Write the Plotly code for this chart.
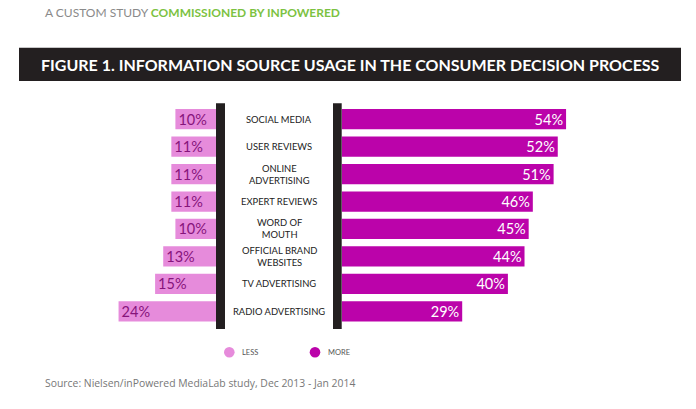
import plotly.graph_objects as go

categories = ["SOCIAL MEDIA", "USER REVIEWS", "ONLINE<br>ADVERTISING", "EXPERT REVIEWS",
              "WORD OF<br>MOUTH", "OFFICIAL BRAND<br>WEBSITES", "TV ADVERTISING", "RADIO ADVERTISING"]
less_vals = [10, 11, 11, 11, 10, 13, 15, 24]
more_vals = [54, 52, 51, 46, 45, 44, 40, 29]

W, H = 696, 409
LESS_C = "#e68bdb"
MORE_C = "#bb03aa"
DARK = "#231f20"

def px(x):
    return x / W

def py(y):
    return 1 - y / H

fig = go.Figure()
fig.add_trace(go.Bar(
    y=categories, x=less_vals, orientation="h", xaxis="x", yaxis="y",
    marker=dict(color=LESS_C, line=dict(width=0)),
    texttemplate="%{x}%", textposition="inside", insidetextanchor="end", constraintext="none",
    textfont=dict(family="Lato", size=14.5, color="#86147b"),
    name="LESS", showlegend=False, hoverinfo="skip",
))
fig.add_trace(go.Bar(
    y=categories, x=more_vals, orientation="h", xaxis="x2", yaxis="y",
    marker=dict(color=MORE_C, line=dict(width=0)),
    texttemplate="%{x}%", textposition="inside", insidetextanchor="end", constraintext="none",
    textfont=dict(family="Lato", size=14.5, color="white"),
    name="MORE", showlegend=False, hoverinfo="skip",
))

left_scale = 4.06
right_scale = 4.155
left_edge_px = 216
right_start_px = 341.7

axis_common = dict(showgrid=False, zeroline=False, showticklabels=False, showline=False, ticks="", fixedrange=True)
fig.update_layout(
    width=W, height=H,
    margin=dict(l=0, r=0, t=0, b=0),
    paper_bgcolor="white", plot_bgcolor="rgba(0,0,0,0)",
    bargap=0.26,
    uniformtext=dict(mode=False),
    xaxis=dict(domain=[0, px(left_edge_px)], range=[left_edge_px / left_scale, 0], **axis_common),
    xaxis2=dict(domain=[px(right_start_px), 1], range=[0, (W - right_start_px) / right_scale],
                anchor="y", **axis_common),
    yaxis=dict(domain=[py(325.0), py(105.5)], type="category", range=[7.5, -0.5], **axis_common),
)

shapes = [
    dict(type="rect", xref="paper", yref="paper", x0=px(19), x1=px(681), y0=py(81), y1=py(47.7),
         fillcolor=DARK, line=dict(width=0), layer="below"),
    dict(type="rect", xref="paper", yref="paper", x0=px(216), x1=px(225), y0=py(329), y1=py(103.3),
         fillcolor=DARK, line=dict(width=0), layer="above"),
    dict(type="rect", xref="paper", yref="paper", x0=px(333), x1=px(341.7), y0=py(329), y1=py(103.3),
         fillcolor=DARK, line=dict(width=0), layer="above"),
    dict(type="circle", xref="paper", yref="paper", x0=px(224), x1=px(234.6), y0=py(357.5), y1=py(347),
         fillcolor=LESS_C, line=dict(width=0)),
    dict(type="circle", xref="paper", yref="paper", x0=px(309.7), x1=px(320.3), y0=py(357.5), y1=py(347),
         fillcolor=MORE_C, line=dict(width=0)),
]
fig.update_layout(shapes=shapes)

annotations = [
    dict(text='A CUSTOM STUDY <b><span style="color:#7cc242">COMMISSIONED BY INPOWERED</span></b>',
         xref="paper", yref="paper", x=px(43), y=py(12), xanchor="left", yanchor="middle",
         showarrow=False, font=dict(family="Lato", size=12, color="#8a8a8a")),
    dict(text="<b>FIGURE 1. INFORMATION SOURCE USAGE IN THE CONSUMER DECISION PROCESS</b>",
         xref="paper", yref="paper", x=px(350), y=py(64.7), xanchor="center", yanchor="middle",
         showarrow=False, font=dict(family="Lato", size=16, color="white")),
    dict(text="LESS", xref="paper", yref="paper", x=px(240), y=py(352.3), xanchor="left", yanchor="middle",
         showarrow=False, font=dict(family="Lato", size=7.5, color="#555555")),
    dict(text="MORE", xref="paper", yref="paper", x=px(325.5), y=py(352.3), xanchor="left", yanchor="middle",
         showarrow=False, font=dict(family="Lato", size=7.5, color="#555555")),
    dict(text="Source: Nielsen/inPowered MediaLab study, Dec 2013 - Jan 2014",
         xref="paper", yref="paper", x=px(43), y=py(382.7), xanchor="left", yanchor="middle",
         showarrow=False, font=dict(family="Open Sans", size=10.4, color="#777777")),
]
for c in categories:
    annotations.append(dict(text=c, xref="paper", yref="y", x=px(279), y=c,
                            xanchor="center", yanchor="middle", align="center", showarrow=False,
                            font=dict(family="Lato", size=9.4, color="#222222")))
fig.update_layout(annotations=annotations)

# remove the browser's default body margin so the 696x409 figure fills the window exactly
fig.write_html("out.html", config={"displayModeBar": False, "staticPlot": True},
               post_script="document.body.style.margin='0px';")
